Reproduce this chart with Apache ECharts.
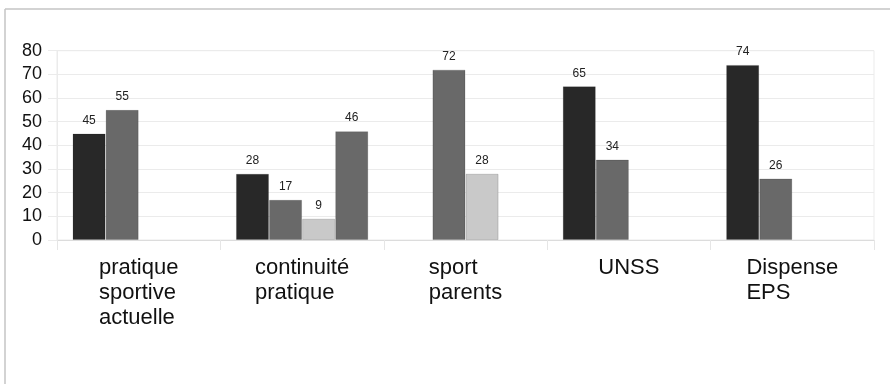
<!DOCTYPE html>
<html>
<head>
<meta charset="utf-8">
<script src="https://cdn.jsdelivr.net/npm/echarts@6/dist/echarts.min.js"></script>
<style>html,body{margin:0;padding:0;background:#fff;}#c{width:890px;height:384px;}</style>
</head>
<body>
<div id="c"></div>
<script>
var categories = ['pratique\nsportive\nactuelle', 'continuité\npratique', 'sport\nparents', 'UNSS', 'Dispense\nEPS'];
var series1 = [45, 28, null, 65, 74];
var series2 = [55, 17, 72, 34, 26];
var series3 = [null, 9, 28, null, null];
var series4 = [null, 46, null, null, null];
var yTicks = [0, 10, 20, 30, 40, 50, 60, 70, 80];

var FONT = '"Liberation Sans", Arial, sans-serif';
var chart = echarts.init(document.getElementById('c'), null, {renderer: 'canvas'});

function barSeries(data, color) {
  return {
    type: 'bar',
    data: data,
    barGap: '0%',
    barCategoryGap: '19%',
    itemStyle: {color: color, borderColor: 'rgba(0,0,0,0.15)', borderWidth: 1},
    label: {show: true, position: 'top', distance: 7, fontSize: 12, color: '#222', fontFamily: FONT},
    animation: false
  };
}

chart.setOption({
  animation: false,
  backgroundColor: '#fff',
  grid: {left: 57, right: 16, top: 50.7, bottom: 144, show: true, borderColor: '#ebebeb', borderWidth: 1},
  xAxis: {
    type: 'category',
    data: categories,
    axisLine: {lineStyle: {color: '#dcdcdc'}},
    axisTick: {show: true, length: 10, lineStyle: {color: '#e6e6e6'}},
    axisLabel: {
      margin: 15,
      fontFamily: FONT,
      color: '#111',
      formatter: function (v) { return v.split('\n').map(function (s) { return '{l|' + s + '}'; }).join('\n'); },
      rich: {l: {align: 'left', fontSize: 22, lineHeight: 25, fontFamily: FONT, color: '#111'}}
    }
  },
  yAxis: {
    type: 'value',
    min: yTicks[0],
    max: yTicks[yTicks.length - 1],
    interval: 10,
    axisLine: {show: true, lineStyle: {color: '#ebebeb'}},
    axisTick: {show: true, length: 9, lineStyle: {color: '#ebebeb'}},
    splitLine: {lineStyle: {color: '#ebebeb'}},
    axisLabel: {margin: 15, fontSize: 18, color: '#111', fontFamily: FONT}
  },
  series: [
    barSeries(series1, '#282828'),
    barSeries(series2, '#696969'),
    barSeries(series3, '#c9c9c9'),
    barSeries(series4, '#696969')
  ],
  graphic: [
    {type: 'line', shape: {x1: 5, y1: 9, x2: 890, y2: 9}, style: {stroke: '#c4c4c4', lineWidth: 1.5}, silent: true},
    {type: 'line', shape: {x1: 5, y1: 9, x2: 5, y2: 384}, style: {stroke: '#c4c4c4', lineWidth: 1.5}, silent: true}
  ]
});
</script>
</body>
</html>
